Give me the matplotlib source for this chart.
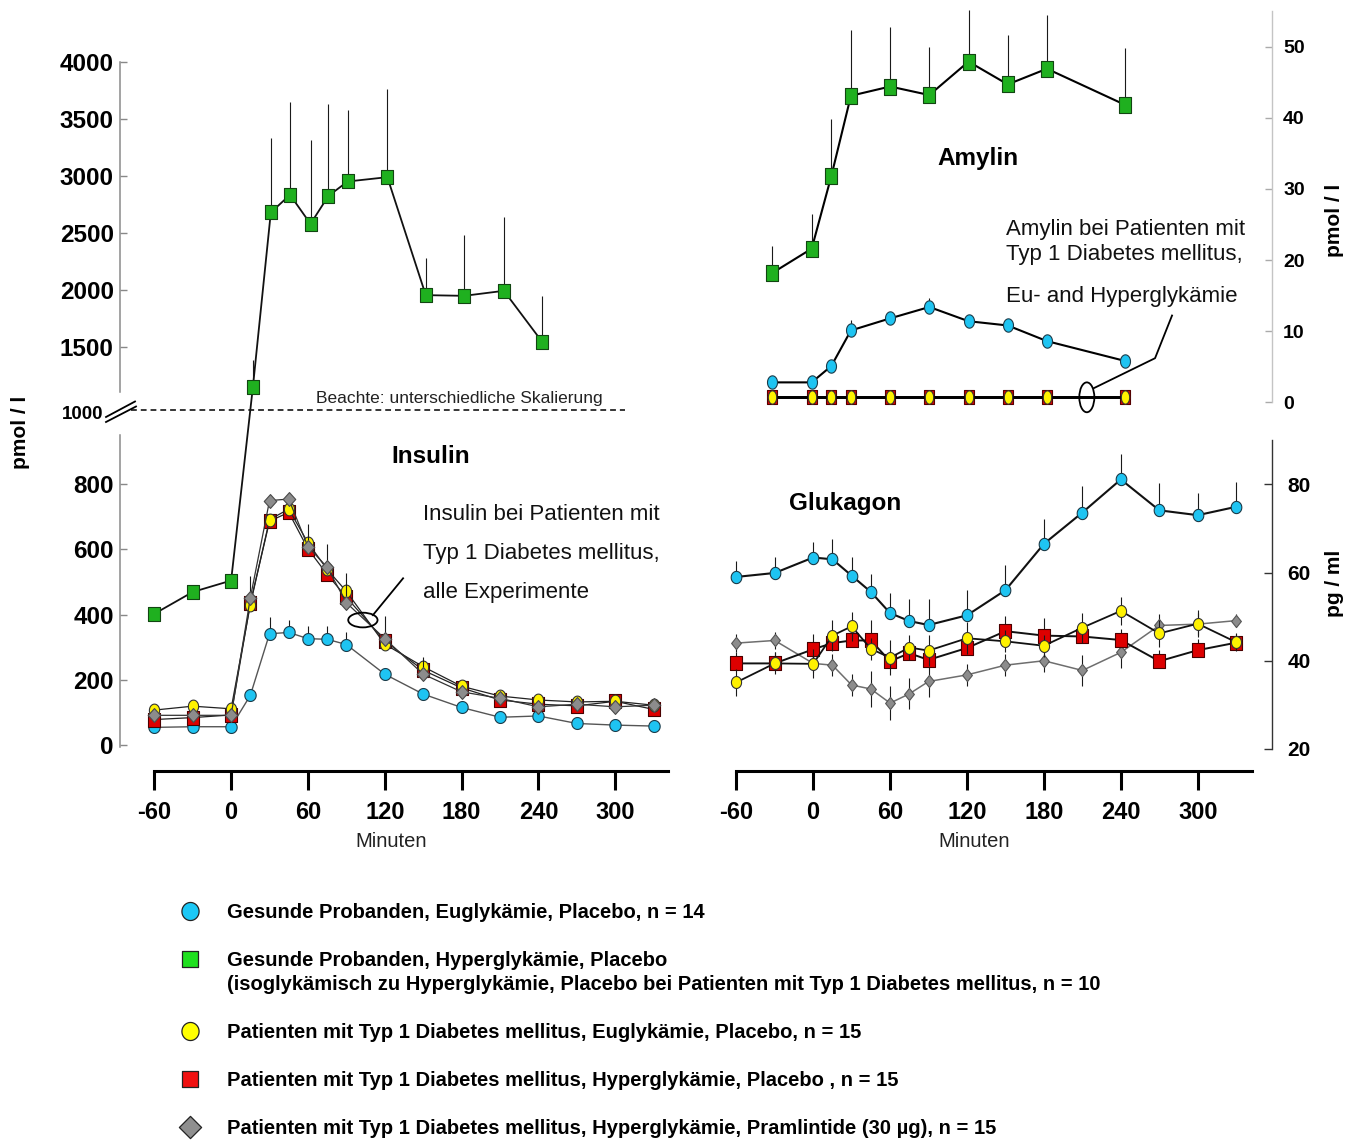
import numpy as np
import matplotlib
matplotlib.use("Agg")
import matplotlib.pyplot as plt
import matplotlib.transforms as mtransforms
from matplotlib.path import Path
from matplotlib.patches import Ellipse
from matplotlib.lines import Line2D

plt.rcParams['font.family'] = ['Liberation Sans', 'DejaVu Sans']

# ------------------------------------------------------------------ data
t_full = [-60, -30, 0, 15, 30, 45, 60, 75, 90, 120, 150, 180, 210, 240, 270, 300, 330]

# Insulin (pmol/l)
ins_cyan = [54, 56, 56, 152, 341, 345, 326, 324, 308, 217, 156, 115, 85, 89, 66, 61, 58]
ins_cyan_err = [0, 0, 0, 0, 51, 37, 38, 40, 37, 0, 0, 0, 0, 0, 0, 0, 0]
t_ins_green = [-60, -30, 0, 17, 31, 46, 62, 76, 91, 122, 152, 182, 213, 243]
ins_green = [402, 469, 504, 1148, 2680, 2835, 2580, 2826, 2952, 2990, 1955, 1949, 1993, 1544]
ins_green_err = [0, 0, 0, 241, 654, 813, 739, 807, 631, 769, 325, 531, 648, 405]
ins_yellow = [107, 119, 111, 430, 691, 723, 620, 538, 471, 309, 240, 180, 150, 138, 132, 134, 122]
ins_red = [78, 84, 92, 435, 686, 713, 601, 523, 453, 319, 229, 175, 138, 125, 120, 134, 109]
ins_gray = [91, 91, 91, 451, 749, 754, 608, 545, 436, 326, 217, 163, 143, 117, 125, 117, 122]
ins_gray_err = [0, 0, 0, 67, 0, 0, 68, 72, 91, 69, 53, 0, 0, 0, 0, 0, 0]

# Amylin (pmol/l)
t_amy = [-30, 0, 15, 30, 60, 90, 120, 150, 180, 240]
amy_green = [18.2, 21.6, 31.8, 43.1, 44.4, 43.2, 47.9, 44.7, 46.9, 41.8]
amy_green_err = [3.8, 4.9, 8.1, 9.3, 8.3, 6.8, 7.3, 7.0, 7.6, 8.0]
amy_cyan = [2.8, 2.8, 5.1, 10.1, 11.8, 13.4, 11.4, 10.8, 8.6, 5.8]
amy_cyan_err = [0, 0, 0, 1.5, 0, 1.2, 0, 0, 0, 0]
amy_red = [0.7, 0.7, 0.7, 0.7, 0.7, 0.7, 0.7, 0.7, 0.7, 0.7]
amy_yellow = [0.7, 0.7, 0.7, 0.7, 0.7, 0.7, 0.7, 0.7, 0.7, 0.7]

# Glukagon (pg/ml)
glu_cyan = [59.0, 59.9, 63.4, 63.0, 59.3, 55.6, 50.8, 49.0, 48.1, 50.3, 56.0, 66.5, 73.6, 81.1, 74.1, 73.0, 74.9]
glu_cyan_err = [3.6, 3.6, 3.6, 4.6, 4.2, 4.1, 4.5, 4.9, 5.8, 5.7, 5.7, 5.6, 6.0, 5.8, 6.3, 5.0, 5.7]
glu_yellow = [35.1, 39.4, 39.3, 45.7, 47.8, 42.7, 40.7, 43.0, 42.3, 45.1, 44.4, 43.4, 47.5, 51.3, 46.2, 48.4, 44.2]
glu_yellow_err = [3.0, 2.5, 3.3, 3.5, 3.3, 2.5, 4.0, 2.9, 3.5, 3.6, 2.5, 2.5, 3.4, 3.2, 3.0, 3.1, 2.0]
glu_red = [39.4, 39.4, 42.6, 44.0, 44.6, 44.6, 39.9, 41.7, 40.2, 42.9, 46.7, 45.7, 45.5, 44.7, 39.9, 42.4, 44.1]
glu_red_err = [2.5, 2.5, 3.4, 3.0, 3.0, 4.6, 2.5, 2.5, 2.5, 2.5, 3.5, 3.9, 2.5, 2.5, 2.5, 2.5, 2.0]
glu_gray = [44.0, 44.6, 39.4, 39.0, 34.5, 33.6, 30.4, 32.5, 35.3, 36.8, 39.0, 40.0, 37.8, 41.9, 48.0, 48.3, 49.1]
glu_gray_err = [2.0, 2.0, 2.0, 2.5, 2.5, 4.0, 3.8, 3.5, 3.5, 2.5, 2.5, 2.5, 3.5, 3.5, 2.5, 2.5, 1.5]

x_ticks = [-60, 0, 60, 120, 180, 240, 300]
x_ticklabels = ['-60', '0', '60', '120', '180', '240', '300']
ins_yticks = [0, 200, 400, 600, 800, 1500, 2000, 2500, 3000, 3500, 4000]
amy_yticks = [0, 10, 20, 30, 40, 50]
glu_yticks = [20, 40, 60, 80]

legend_labels = [
    "Gesunde Probanden, Euglykämie, Placebo, n = 14",
    "Gesunde Probanden, Hyperglykämie, Placebo",
    "Patienten mit Typ 1 Diabetes mellitus, Euglykämie, Placebo, n = 15",
    "Patienten mit Typ 1 Diabetes mellitus, Hyperglykämie, Placebo , n = 15",
    "Patienten mit Typ 1 Diabetes mellitus, Hyperglykämie, Pramlintide (30 µg), n = 15",
]
legend_second_line = ("(isoglykämisch zu Hyperglykämie, Placebo bei Patienten mit "
                      "Typ 1 Diabetes mellitus, n = 10")

# ------------------------------------------------------------------ style
CYAN = '#1EC4F2'
GREEN = '#1FB01F'
YELLOW = '#FFF200'
RED = '#DD0000'
GRAY = '#8C8C8C'
L_CYAN = '#1CC8F6'
L_GREEN = '#1EE01E'
L_YELLOW = '#FFFF00'
L_RED = '#F01010'
L_GRAY = '#8F8F8F'


def ellipse_marker(aspect):
    th = np.linspace(0, 2 * np.pi, 49)
    return Path(np.column_stack([aspect * np.cos(th), np.sin(th)]), closed=True)


def rect_marker(aspect):
    return Path([[-aspect, -1], [aspect, -1], [aspect, 1], [-aspect, 1], [-aspect, -1]], closed=True)


def diamond_marker(aspect):
    return Path([[0, -1], [aspect, 0], [0, 1], [-aspect, 0], [0, -1]], closed=True)


def series(ax, t, y, mk, ms, fc, ec, lc, lw, z, up=None, lo=None):
    n = len(y)
    if up is not None or lo is not None:
        upv = np.asarray(up if up is not None else np.zeros(n), float)
        lov = np.asarray(lo if lo is not None else np.zeros(n), float)
        ax.errorbar(t, y, yerr=[lov, upv], fmt='none', ecolor='#1a1a1a',
                    elinewidth=0.8, capsize=0, zorder=z - 0.5, clip_on=False)
    ax.plot(t, y, color=lc, lw=lw, marker=mk, ms=ms, mfc=fc, mec=ec, mew=0.8,
            zorder=z, clip_on=False)


W, H = 1360, 1142
fig = plt.figure(figsize=(W / 100, H / 100), dpi=100)


def px_rect(x0, y0, x1, y1):
    return [x0 / W, 1 - y1 / H, (x1 - x0) / W, (y1 - y0) / H]


def fxy(x, y):
    return x / W, 1 - y / H


def bold_ticks(labels):
    for lab in labels:
        lab.set_fontweight('bold')


# ------------------------------------------------------------------ broken scale (insulin)
B0, B1 = 1000.0, 1020.0
R = 0.114 / 0.32625              # upper / lower pixel density
F1 = 1045.2 + (B1 - B0) * R      # scale value at B1
S = (F1 - B0) / (B1 - B0)


def fwd(v):
    v = np.asarray(v, dtype=float)
    return np.where(v <= B0, v, np.where(v <= B1, B0 + (v - B0) * S, F1 + (v - B1) * R))


def inv(u):
    u = np.asarray(u, dtype=float)
    return np.where(u <= B0, u, np.where(u <= F1, B0 + (u - B0) / S, B1 + (u - F1) / R))


# ------------------------------------------------------------------ insulin panel
axI = fig.add_axes(px_rect(120, 55, 668, 771))
axI.set_yscale('function', functions=(fwd, inv))
axI.set_xlim(-86.77, 341.17)
axI.set_ylim(-79.7, 4061.6)
axI.patch.set_alpha(0)
for s in ['top', 'right', 'left']:
    axI.spines[s].set_visible(False)
axI.spines['bottom'].set_bounds(-60, 341.17)
axI.spines['bottom'].set_linewidth(2.2)

trI = mtransforms.blended_transform_factory(axI.transAxes, axI.transData)
axI.plot([0, 0], [-5, 950], transform=trI, color='#8a8a8a', lw=1.1, clip_on=False)
axI.plot([0, 0], [1105, 4000], transform=trI, color='#8a8a8a', lw=1.1, clip_on=False)

axI.set_xticks(x_ticks)
axI.set_xticklabels(x_ticklabels, fontsize=17)
bold_ticks(axI.get_xticklabels())
axI.set_yticks(ins_yticks)
axI.set_yticklabels([str(v) for v in ins_yticks], fontsize=17.5)
bold_ticks(axI.get_yticklabels())
axI.yaxis.set_minor_locator(matplotlib.ticker.NullLocator())
axI.tick_params(axis='x', direction='out', length=13.5, width=2.2, pad=8, color='black')
axI.tick_params(axis='y', direction='in', length=5, width=1, color='#888888', pad=4.5)

series(axI, t_full, ins_cyan, ellipse_marker(0.95), 8.6, CYAN, '#1b3a48', '#555555', 1.0, 3, up=ins_cyan_err)
series(axI, t_ins_green, ins_green, rect_marker(0.93), 10, GREEN, '#124512', '#111111', 1.3, 4, up=ins_green_err)
series(axI, t_full, ins_red, rect_marker(0.92), 9.4, RED, '#4a0000', '#222222', 0.9, 5)
series(axI, t_full, ins_yellow, ellipse_marker(0.8), 9.2, YELLOW, '#333333', '#222222', 0.9, 6)
series(axI, t_full, ins_gray, diamond_marker(0.9), 10, GRAY, '#4a4a4a', '#333333', 0.9, 7, up=ins_gray_err)

# break indication
axI.plot([-78.2, 307.6], [1010, 1010], ls=(0, (3.8, 2.6)), color='black', lw=1.1, zorder=2)
axI.text(-0.031, 1005, '1000', transform=trI, ha='right', va='center', fontsize=13.5,
         fontweight='bold', clip_on=False)
for (xa, ya, xb, yb) in [(106, 417, 135, 401.5), (106, 422, 136, 406.5)]:
    fig.add_artist(Line2D([xa / W, xb / W], [1 - ya / H, 1 - yb / H], color='black', lw=1.3,
                          transform=fig.transFigure))
axI.text(66.2, 1018.5, 'Beachte: unterschiedliche Skalierung', fontsize=12.5, ha='left',
         va='baseline', color='#222222')

axI.text(156.1, 864.4, 'Insulin', fontsize=17.5, fontweight='bold', ha='center', va='baseline')
for txt, v in [('Insulin bei Patienten mit', 689.7), ('Typ 1 Diabetes mellitus,', 570.1),
               ('alle Experimente', 450.6)]:
    axI.text(149.8, v, txt, fontsize=16, ha='left', va='baseline', color='#111111')
axI.add_patch(Ellipse((102.9, 383), width=22.9, height=45, fill=False, ec='black', lw=1.3, zorder=9))
axI.plot([110.7, 134.3], [398, 511], color='black', lw=1.3, zorder=9)

# ------------------------------------------------------------------ amylin panel
axA = fig.add_axes(px_rect(715, 8, 1272, 420))
axA.set_xlim(-73.99, 352.18)
axA.set_ylim(-2.49, 55.44)
axA.patch.set_alpha(0)
for s in ['top', 'left', 'bottom']:
    axA.spines[s].set_visible(False)
axA.spines['right'].set_bounds(0, 55)
axA.spines['right'].set_color('#c4c4c4')
axA.spines['right'].set_linewidth(1.0)
axA.set_xticks([])
axA.yaxis.tick_right()
axA.set_yticks(amy_yticks)
axA.set_yticklabels([str(v) for v in amy_yticks], fontsize=14)
bold_ticks(axA.get_yticklabels())
axA.tick_params(axis='y', direction='in', length=5, width=1, color='#aaaaaa', pad=8)

series(axA, t_amy, amy_red, rect_marker(0.68), 10.6, RED, '#550000', 'black', 2.0, 3)
series(axA, t_amy, amy_yellow, ellipse_marker(0.63), 9.6, YELLOW, '#333333', 'black', 2.0, 4)
series(axA, t_amy, amy_cyan, ellipse_marker(0.75), 9.6, CYAN, '#1b3a48', 'black', 1.5, 5, up=amy_cyan_err)
series(axA, t_amy, amy_green, rect_marker(0.69), 11.5, GREEN, '#124512', 'black', 1.5, 6, up=amy_green_err)

axA.text(127.2, 33.37, 'Amylin', fontsize=17.5, fontweight='bold', ha='center', va='baseline')
for txt, v in [('Amylin bei Patienten mit', 23.52), ('Typ 1 Diabetes mellitus,', 20.01),
               ('Eu- and Hyperglykämie', 14.10)]:
    axA.text(148.7, v, txt, fontsize=16, ha='left', va='baseline', color='#111111')
axA.add_patch(Ellipse((210.5, 0.7), width=11.5, height=4.2, fill=False, ec='black', lw=1.3, zorder=9))
axA.plot([216, 262.7, 275.7], [2.0, 6.2, 12.2], color='black', lw=1.3, zorder=9)

# ------------------------------------------------------------------ glucagon panel
axG = fig.add_axes(px_rect(715, 440, 1272, 771))
axG.set_xlim(-76.57, 357.91)
axG.set_ylim(15.01, 90.04)
axG.patch.set_alpha(0)
for s in ['top', 'left']:
    axG.spines[s].set_visible(False)
axG.spines['right'].set_bounds(20, 90)
axG.spines['right'].set_color('#333333')
axG.spines['right'].set_linewidth(1.0)
axG.spines['bottom'].set_bounds(-60, 342.3)
axG.spines['bottom'].set_linewidth(2.2)
axG.yaxis.tick_right()
axG.set_xticks(x_ticks)
axG.set_xticklabels(x_ticklabels, fontsize=17)
bold_ticks(axG.get_xticklabels())
axG.set_yticks(glu_yticks)
axG.set_yticklabels([str(v) for v in glu_yticks], fontsize=15)
bold_ticks(axG.get_yticklabels())
axG.tick_params(axis='x', direction='out', length=13.5, width=2.2, pad=8, color='black')
axG.tick_params(axis='y', direction='in', length=6, width=1, color='#333333', pad=11)

series(axG, t_full, glu_gray, diamond_marker(0.8), 8.8, GRAY, '#555555', '#6e6e6e', 1.1, 3,
       up=glu_gray_err, lo=glu_gray_err)
series(axG, t_full, glu_red, rect_marker(0.92), 9.4, RED, '#4a0000', '#111111', 1.4, 4, up=glu_red_err)
series(axG, t_full, glu_yellow, ellipse_marker(0.85), 8.6, YELLOW, '#333333', '#111111', 1.3, 5,
       up=glu_yellow_err, lo=glu_yellow_err)
series(axG, t_full, glu_cyan, ellipse_marker(0.87), 8.8, CYAN, '#1b3a48', '#111111', 1.5, 6, up=glu_cyan_err)
axG.text(24.8, 74.17, 'Glukagon', fontsize=17.5, fontweight='bold', ha='center', va='baseline')

# ------------------------------------------------------------------ axis titles
fig.text(*fxy(391, 847), 'Minuten', fontsize=14.5, ha='center', va='baseline', color='#222222')
fig.text(*fxy(974, 847), 'Minuten', fontsize=14.5, ha='center', va='baseline', color='#222222')
fig.text(*fxy(20, 432), 'pmol / l', rotation=90, fontsize=15, fontweight='bold', ha='center', va='center')
fig.text(*fxy(1335, 220), 'pmol / l', rotation=90, fontsize=15, fontweight='bold', ha='center', va='center')
fig.text(*fxy(1335, 583), 'pg / ml', rotation=90, fontsize=15, fontweight='bold', ha='center', va='center')

# ------------------------------------------------------------------ legend
leg_rows = [911, 959, 1031, 1079, 1127]
leg_markers = [
    (ellipse_marker(0.95), 13, L_CYAN),
    (rect_marker(1.0), 11.5, L_GREEN),
    (ellipse_marker(0.95), 13, L_YELLOW),
    (rect_marker(1.0), 11.5, L_RED),
    (diamond_marker(1.0), 16, L_GRAY),
]
for yy, (mk, ms, col), lab in zip(leg_rows, leg_markers, legend_labels):
    fx, fy = fxy(190, yy)
    fig.add_artist(Line2D([fx], [fy], marker=mk, ms=ms, mfc=col, mec='#222222', mew=0.9,
                          ls='none', transform=fig.transFigure))
    fig.text(*fxy(227, yy), lab, fontsize=14.5, fontweight='bold', ha='left', va='center_baseline')
fig.text(*fxy(227, 983), legend_second_line, fontsize=14.5, fontweight='bold', ha='left',
         va='center_baseline')

fig.savefig('out.png', dpi=100)
